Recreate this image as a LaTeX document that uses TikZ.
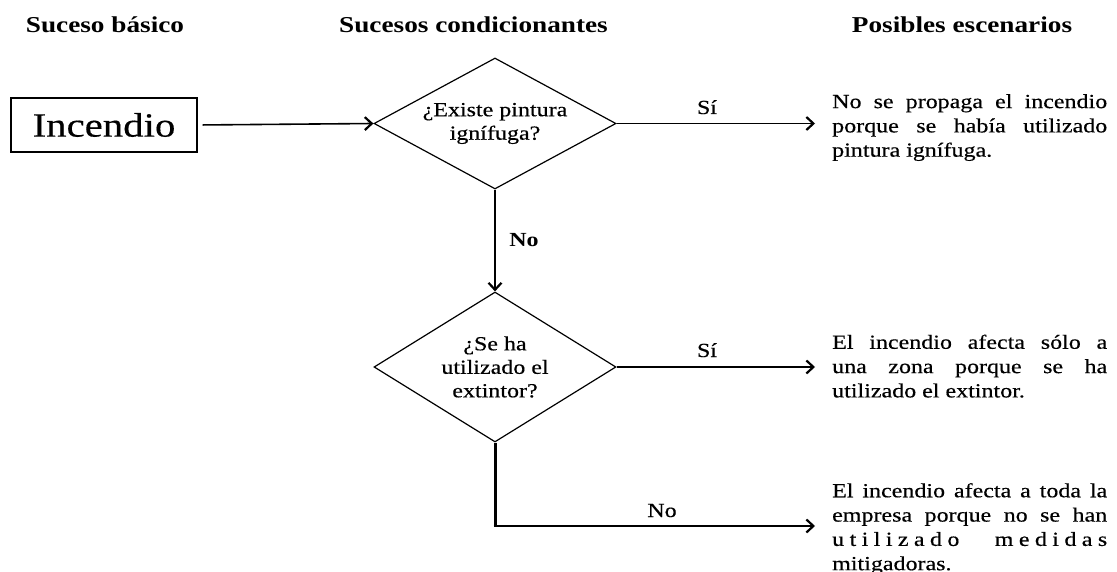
\documentclass[tikz,border=0pt]{standalone}
\usepackage{fontspec}
\setmainfont{Liberation Serif}[FakeStretch=1.2,UprightFeatures={FakeBold=0.4}]
\newfontfamily\lsfont{Liberation Serif}[FakeStretch=1.2,LetterSpace=27,UprightFeatures={FakeBold=0.4}]
\usetikzlibrary{shapes.geometric,arrows.meta}
\begin{document}
\begin{tikzpicture}[x=1pt,y=-1pt,
  hdr/.style={font=\fontsize{22.7}{27}\selectfont\bfseries, inner sep=0, anchor=base},
  lbl/.style={font=\fontsize{20}{24}\selectfont, inner sep=0, anchor=base},
  dec/.style={draw, shape=diamond, inner sep=0, align=center, line width=1.2pt,
    font=\fontsize{20}{23.5}\selectfont},
  scen/.style={anchor=north west, inner sep=0, text width=275pt, align=justify,
    font=\fontsize{20}{24.3}\selectfont},
  conn/.style={line width=1.6pt, -{Straight Barb[length=7pt,width=13pt,line width=2.2pt]}},
  ]
\useasboundingbox (0,0) rectangle (1117,572);
% headers
\node[hdr] (h1) at (105,33) {Suceso básico};
\node[hdr] (h2) at (473.5,33) {Sucesos condicionantes};
\node[hdr] (h3) at (962,33) {Posibles escenarios};
% basic event
\node[draw, line width=1.4pt, minimum width=186pt, minimum height=54pt, inner sep=0,
  font=\fontsize{34}{40}\selectfont] (inc) at (104,125) {Incendio};
% decisions
\node[dec, minimum width=242pt, minimum height=131pt, aspect=1.85] (d1) at (495,123.5)
  {¿Existe pintura\\ignífuga?};
\node[dec, minimum width=242pt, minimum height=150pt, aspect=1.61] (d2) at (495,367)
  {¿Se ha\\utilizado el\\extintor?};
% scenarios
\node[scen] (s1) at (832,94) {No se propaga el incendio\linebreak porque se había utilizado\linebreak pintura ignífuga.};
\node[scen] (s2) at (832,334.5) {El incendio afecta sólo a\linebreak una zona porque se ha\linebreak utilizado el extintor.};
\node[scen] (s3) at (832,483) {El incendio afecta a toda la\linebreak empresa porque no se han\linebreak {\lsfont utilizado medidas}\linebreak mitigadoras.};
% free ends
\coordinate (e1) at (815,123.5);
\coordinate (e2) at (815,367);
\coordinate (c3) at (495,526);
\coordinate (e3) at (815,526);
% connectors
\draw[conn, shorten <=5pt] (inc.east) -- (d1.west);
\draw[conn] (d1.east) -- (e1);
\draw[conn] (d1.south) -- (d2.north);
\draw[conn] (d2.east) -- (e2);
\draw[line width=3pt] (d2.south) -- (c3);
\draw[conn] ([xshift=-1.5pt]c3) -- (e3);
% labels
\node[lbl] (l1) at (707,114) {Sí};
\node[lbl, font=\fontsize{20}{24}\selectfont\bfseries] (l2) at (524,247) {No};
\node[lbl] (l3) at (707,357) {Sí};
\node[lbl] (l4) at (662,517) {No};
\end{tikzpicture}
\end{document}
